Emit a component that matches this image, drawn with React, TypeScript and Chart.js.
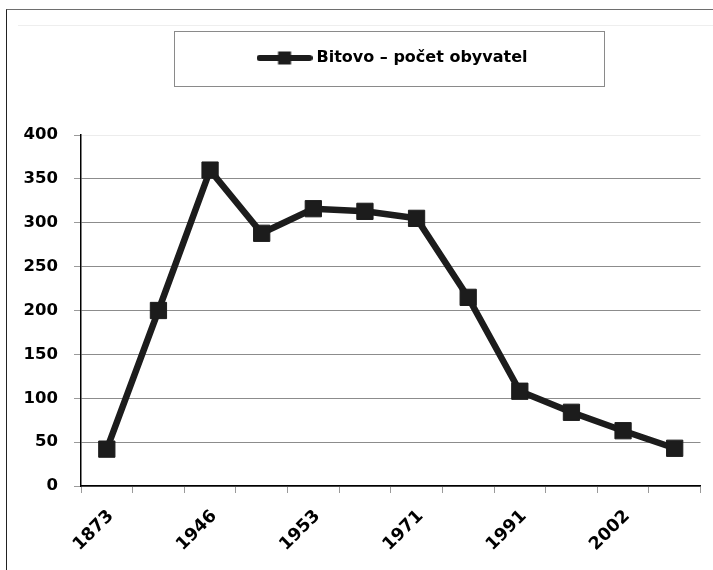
import React, { useEffect, useRef } from "react";
import { Chart, registerables } from "chart.js";

Chart.register(...registerables);

// ---- data ----
const categories = ["1873", "", "1946", "", "1953", "", "1971", "", "1991", "", "2002", ""];
const population = [42, 200, 360, 288, 316, 313, 305, 215, 108, 84, 63, 43];
const yTickValues = [0, 50, 100, 150, 200, 250, 300, 350, 400];
const seriesLabel = "Bitovo – počet obyvatel";

const LINE = "#1c1c1c";
const FONT = "'DejaVu Sans', sans-serif";
const LEGEND_FONT_SIZE = 16;
const LEGEND_IMG_W = 56;

function makeLegendImage(): HTMLCanvasElement {
  const c = document.createElement("canvas");
  c.width = LEGEND_IMG_W;
  c.height = 14;
  const g = c.getContext("2d")!;
  g.strokeStyle = LINE;
  g.lineWidth = 6;
  g.lineCap = "round";
  g.beginPath();
  g.moveTo(3, 7);
  g.lineTo(LEGEND_IMG_W - 3, 7);
  g.stroke();
  g.fillStyle = LINE;
  g.fillRect(LEGEND_IMG_W / 2 - 6.5, 0.5, 13, 13);
  return c;
}

const legendBoxPlugin = {
  id: "legendBox",
  afterInit(chart: any) {
    const legend = chart.legend;
    if (legend && !legend.__patched) {
      const orig = legend.fit.bind(legend);
      legend.fit = function () {
        orig();
        this.height = 135;
      };
      legend.__patched = true;
    }
  },
  afterLayout(chart: any) {
    const lg = chart.legend;
    if (!lg) return;
    // shift the legend's alignment span so that the item sits where the original has it
    lg.left = 0;
    lg.right = 788;
    lg.width = 788;
  },
  afterDraw(chart: any) {
    const legend = chart.legend;
    if (!legend || !legend.legendHitBoxes || !legend.legendHitBoxes.length) return;
    const hb = legend.legendHitBoxes[0];
    const ctx = chart.ctx;
    const cy = hb.top + hb.height / 2;
    const left = Math.round(hb.left - 87) + 0.5;
    const right = Math.round(hb.left + hb.width + 77) + 0.5;
    const top = Math.round(cy - 27.5) + 0.5;
    ctx.save();
    ctx.strokeStyle = "#8a8a8a";
    ctx.lineWidth = 1;
    ctx.strokeRect(left, top, right - left, 55);
    ctx.restore();
  },
};

export default function App() {
  const ref = useRef<HTMLCanvasElement | null>(null);

  useEffect(() => {
    if (!ref.current) return;
    const img = makeLegendImage();
    const chart = new Chart(ref.current, {
      type: "line",
      data: {
        labels: categories,
        datasets: [
          {
            label: seriesLabel,
            data: population,
            borderColor: LINE,
            backgroundColor: LINE,
            borderWidth: 6.5,
            tension: 0,
            pointStyle: "rect",
            pointRadius: 11.5,
            pointBorderWidth: 1,
            pointBorderColor: LINE,
            pointBackgroundColor: LINE,
          },
        ],
      },
      options: {
        animation: false,
        responsive: false,
        maintainAspectRatio: false,
        layout: { padding: { left: 0, right: 6, top: 0, bottom: 0 } },
        plugins: {
          tooltip: { enabled: false },
          legend: {
            display: true,
            position: "top",
            labels: {
              usePointStyle: true,
              pointStyleWidth: LEGEND_IMG_W - LEGEND_FONT_SIZE + 8,
              padding: 50,
              color: "#000",
              font: { family: FONT, size: LEGEND_FONT_SIZE, weight: "bold" },
              generateLabels: (ch: any) =>
                ch.data.datasets.map((ds: any, i: number) => ({
                  text: ds.label,
                  pointStyle: img,
                  fillStyle: LINE,
                  strokeStyle: LINE,
                  lineWidth: 0,
                  hidden: false,
                  datasetIndex: i,
                  fontColor: "#000",
                })),
            },
          },
        },
        scales: {
          x: {
            type: "category",
            offset: true,
            afterFit: (s: any) => {
              s.height = 84;
            },
            border: { display: true, color: "#000", width: 1.5 },
            grid: {
              offset: true,
              drawOnChartArea: false,
              drawTicks: true,
              tickLength: 7,
              tickColor: "#9a9a9a",
            },
            ticks: {
              autoSkip: false,
              maxRotation: 45,
              minRotation: 45,
              padding: 13,
              labelOffset: 4,
              color: "#000",
              font: { family: FONT, size: 17.5, weight: "bold" },
              callback: (_v: any, i: number) => categories[i],
            },
          },
          y: {
            min: 0,
            max: 400,
            afterFit: (s: any) => {
              s.width = 81;
            },
            afterBuildTicks: (s: any) => {
              s.ticks = yTickValues.map((v) => ({ value: v }));
            },
            border: { display: true, color: "#000", width: 1.5 },
            grid: {
              color: (c: any) => (c.tick && c.tick.value === 400 ? "#ececec" : "#8c8c8c"),
              lineWidth: 1,
              drawTicks: true,
              tickLength: 7,
              tickColor: "#9a9a9a",
            },
            ticks: {
              padding: 16,
              color: "#000",
              font: { family: FONT, size: 16.5, weight: "bold" },
            },
          },
        },
      },
      plugins: [legendBoxPlugin],
    });
    return () => chart.destroy();
  }, []);

  return (
    <div style={{ position: "fixed", left: 0, top: 0, width: 713, height: 570, background: "#fff", overflow: "hidden" }}>
      <div
        style={{
          position: "absolute",
          left: 6,
          top: 9,
          width: 720,
          height: 600,
          borderLeft: "1.5px solid #222",
          borderTop: "1.5px solid #6e6e6e",
        }}
      />
      <div style={{ position: "absolute", left: 18, top: 25, width: 700, height: 0, borderTop: "1px solid #eeeeee" }} />
      <canvas ref={ref} width={713} height={570} style={{ position: "absolute", left: 0, top: 0, display: "block" }} />
    </div>
  );
}
